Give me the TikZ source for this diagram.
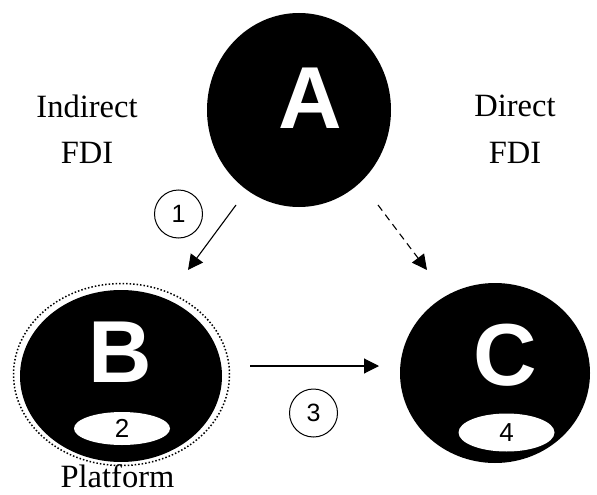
\documentclass[tikz,border=0pt]{standalone}
\usepackage{fontspec}
\setmainfont{Liberation Serif}
\newfontfamily\arialfont{Liberation Sans}
\usetikzlibrary{shapes.geometric,arrows.meta}
\begin{document}
\begin{tikzpicture}[x=1pt,y=-1pt,
  bigcirc/.style={ellipse,fill=black,inner sep=0pt},
  bigletter/.style={text=white,inner sep=0pt,font=\arialfont\bfseries\fontsize{88}{88}\selectfont},
  subell/.style={ellipse,fill=white,inner sep=0pt,minimum width=96pt,font=\arialfont\fontsize{26}{26}\selectfont},
  numcirc/.style={circle,draw,line width=1pt,minimum size=48pt,inner sep=0pt,font=\arialfont\fontsize{25}{25}\selectfont},
  lbl/.style={font=\fontsize{32.5}{34}\selectfont,anchor=base,inner sep=0pt},
  arr/.style={line width=1.1pt,-{Triangle[length=15pt,width=15pt]}}]
\useasboundingbox (0,0) rectangle (597,495);
% nodes
\node[bigcirc,minimum width=184pt,minimum height=194pt] (A) at (299,110) {};
\node[bigletter] (Al) at (310,98) {A};
\node[ellipse,draw,dotted,line width=1.5pt,minimum width=216pt,minimum height=182pt,inner sep=0pt] (Bo) at (121.5,374.5) {};
\node[bigcirc,minimum width=202pt,minimum height=172pt] (B) at (121,376) {};
\node[bigletter] (Bl) at (120,352) {B};
\node[subell,minimum height=33pt] (B2) at (122,428.5) {2};
\node[bigcirc,minimum width=190pt,minimum height=180pt] (C) at (495,373) {};
\node[bigletter] (Cl) at (505,355) {C};
\node[subell,minimum height=38pt] (C4) at (506.5,432.5) {4};
% labels
\node[lbl] (ind1) at (87,117) {Indirect};
\node[lbl] (ind2) at (87,163) {FDI};
\node[lbl] (dir1) at (515,116) {Direct};
\node[lbl] (dir2) at (515,163) {FDI};
\node[lbl] (plat) at (117.5,487) {Platform};
\node[numcirc] (n1) at (178.5,214) {1};
\node[numcirc] (n3) at (313.5,413) {3};
% connectors
\coordinate (a1) at (236,205);
\coordinate (b1) at (188,270);
\coordinate (a2) at (378,205);
\coordinate (c2) at (427,270);
\coordinate (b3) at (250,366);
\coordinate (c3) at (379,366);
\draw[arr] (a1) -- (b1);
\draw[arr,dash pattern=on 7pt off 5pt] (a2) -- (c2);
\draw[arr] (b3) -- (c3);
\end{tikzpicture}
\end{document}
